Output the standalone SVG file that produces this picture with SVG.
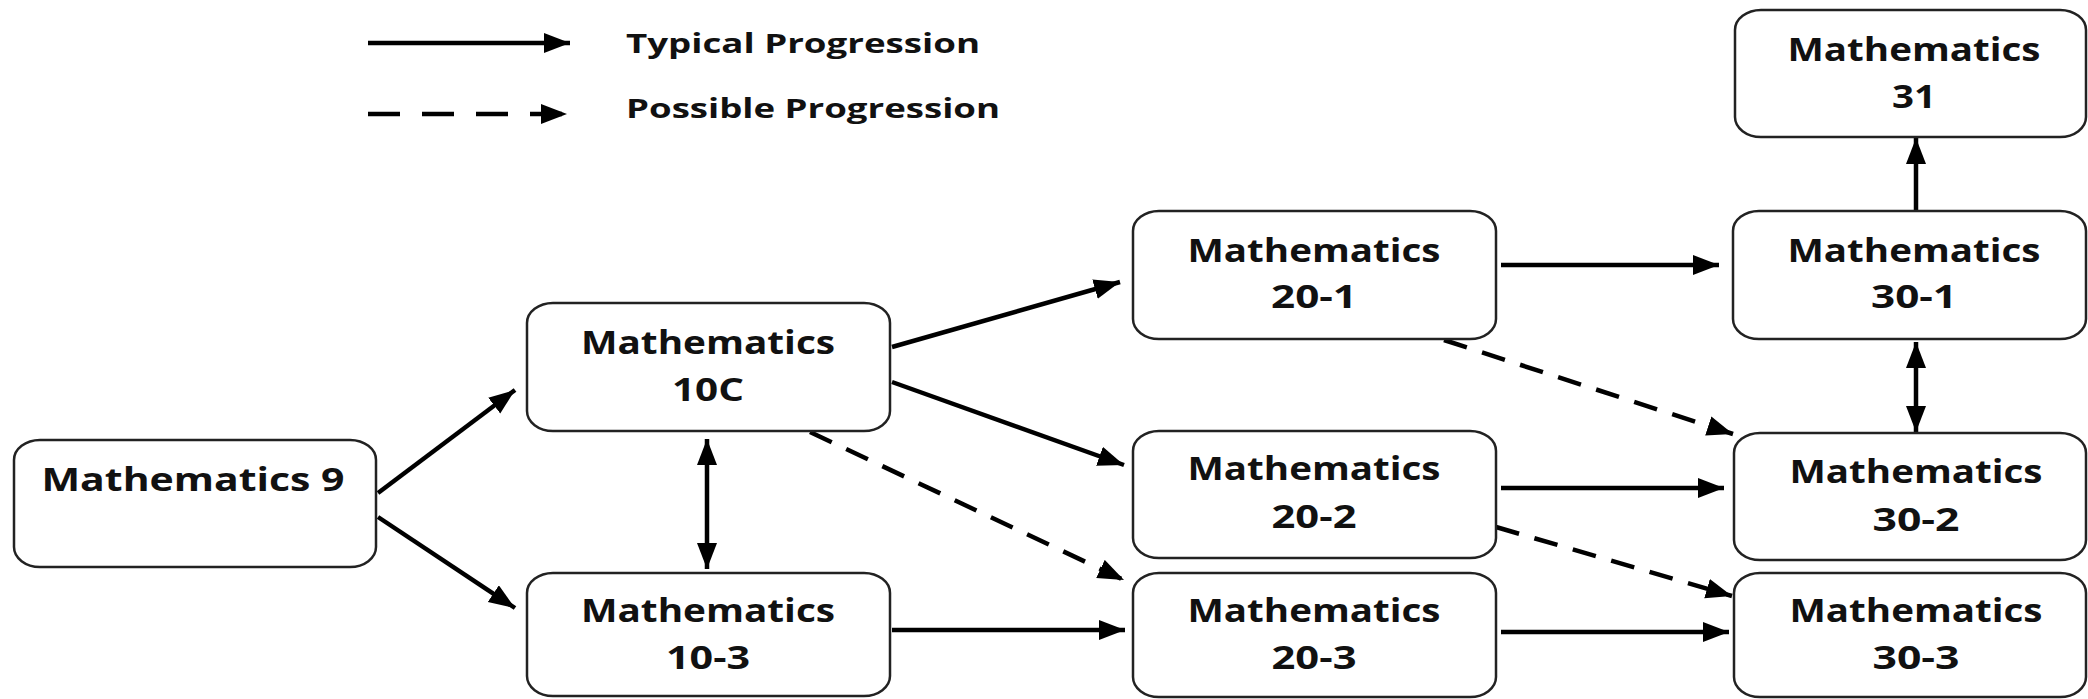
<svg xmlns="http://www.w3.org/2000/svg" width="2088" height="699" viewBox="0 0 2088 699">
<style>
.box{fill:#fff;stroke:#222;stroke-width:2.5}
.t{font-family:"Open Sans","Liberation Sans",sans-serif;font-weight:700;font-size:32px;fill:#111;text-anchor:middle}
.lg{font-family:"Open Sans","Liberation Sans",sans-serif;font-weight:700;font-size:26px;fill:#111}
.c{stroke:#000;stroke-width:4.5;fill:none}
.s{marker-end:url(#ah)}
.d{stroke-dasharray:24 16;marker-end:url(#ah)}
.b{marker-start:url(#ah);marker-end:url(#ah)}
</style>
<defs>
<marker id="ah" markerUnits="userSpaceOnUse" markerWidth="28" markerHeight="22" viewBox="0 0 28 22" refX="26" refY="10" orient="auto-start-reverse">
<path d="M0,0 L26,10 L0,20 z" fill="#000"/>
</marker>
</defs>
<rect width="2088" height="699" fill="#fff"/>
<g id="legend">
<line class="c s" x1="368" y1="43" x2="570" y2="43"/>
<line class="c" x1="368" y1="114" x2="567" y2="114" style="stroke-dasharray:32 22;marker-end:url(#ah)"/>
<text class="lg" x="626" y="53" textLength="354" lengthAdjust="spacingAndGlyphs">Typical Progression</text>
<text class="lg" x="626" y="118" textLength="374" lengthAdjust="spacingAndGlyphs">Possible Progression</text>
</g>
<g id="connectors">
<line class="c s" x1="378" y1="493" x2="515" y2="390"/>
<line class="c s" x1="378" y1="517" x2="515" y2="608"/>
<line class="c b" x1="707" y1="439" x2="707" y2="569"/>
<line class="c s" x1="892" y1="347" x2="1120" y2="282"/>
<line class="c s" x1="892" y1="382" x2="1124" y2="465"/>
<line class="c d" x1="810" y1="432" x2="1124" y2="580"/>
<line class="c s" x1="892" y1="630" x2="1125" y2="630"/>
<line class="c s" x1="1501" y1="265" x2="1719" y2="265"/>
<line class="c d" x1="1444" y1="340" x2="1733" y2="434"/>
<line class="c s" x1="1501" y1="488" x2="1724" y2="488"/>
<line class="c d" x1="1496" y1="527" x2="1732" y2="596"/>
<line class="c s" x1="1501" y1="632" x2="1729" y2="632"/>
<line class="c b" x1="1916" y1="342" x2="1916" y2="432"/>
<line class="c s" x1="1916" y1="211" x2="1916" y2="138"/>
</g>
<g id="n9"><rect class="box" x="14" y="440" width="362" height="127" rx="26" ry="20"/><text class="t" x="193" y="491" textLength="303" lengthAdjust="spacingAndGlyphs">Mathematics 9</text></g>
<g id="n10c"><rect class="box" x="527" y="303" width="363" height="128" rx="26" ry="20"/><text class="t" x="708" y="354" textLength="254" lengthAdjust="spacingAndGlyphs">Mathematics</text><text class="t" x="708" y="401" textLength="72" lengthAdjust="spacingAndGlyphs">10C</text></g>
<g id="n103"><rect class="box" x="527" y="573" width="363" height="123" rx="26" ry="20"/><text class="t" x="708" y="622" textLength="254" lengthAdjust="spacingAndGlyphs">Mathematics</text><text class="t" x="708" y="669" textLength="84" lengthAdjust="spacingAndGlyphs">10-3</text></g>
<g id="n201"><rect class="box" x="1133" y="211" width="363" height="128" rx="26" ry="20"/><text class="t" x="1314" y="262" textLength="253" lengthAdjust="spacingAndGlyphs">Mathematics</text><text class="t" x="1314" y="308" textLength="86" lengthAdjust="spacingAndGlyphs">20-1</text></g>
<g id="n202"><rect class="box" x="1133" y="431" width="363" height="127" rx="26" ry="20"/><text class="t" x="1314" y="480" textLength="253" lengthAdjust="spacingAndGlyphs">Mathematics</text><text class="t" x="1314" y="528" textLength="85" lengthAdjust="spacingAndGlyphs">20-2</text></g>
<g id="n203"><rect class="box" x="1133" y="573" width="363" height="124" rx="26" ry="20"/><text class="t" x="1314" y="622" textLength="253" lengthAdjust="spacingAndGlyphs">Mathematics</text><text class="t" x="1314" y="669" textLength="85" lengthAdjust="spacingAndGlyphs">20-3</text></g>
<g id="n31"><rect class="box" x="1735" y="10" width="351" height="127" rx="26" ry="20"/><text class="t" x="1914" y="61" textLength="253" lengthAdjust="spacingAndGlyphs">Mathematics</text><text class="t" x="1914" y="108" textLength="44" lengthAdjust="spacingAndGlyphs">31</text></g>
<g id="n301"><rect class="box" x="1733" y="211" width="353" height="128" rx="26" ry="20"/><text class="t" x="1914" y="262" textLength="253" lengthAdjust="spacingAndGlyphs">Mathematics</text><text class="t" x="1914" y="308" textLength="86" lengthAdjust="spacingAndGlyphs">30-1</text></g>
<g id="n302"><rect class="box" x="1734" y="433" width="352" height="127" rx="26" ry="20"/><text class="t" x="1916" y="483" textLength="253" lengthAdjust="spacingAndGlyphs">Mathematics</text><text class="t" x="1916" y="531" textLength="87" lengthAdjust="spacingAndGlyphs">30-2</text></g>
<g id="n303"><rect class="box" x="1734" y="573" width="352" height="124" rx="26" ry="20"/><text class="t" x="1916" y="622" textLength="253" lengthAdjust="spacingAndGlyphs">Mathematics</text><text class="t" x="1916" y="669" textLength="87" lengthAdjust="spacingAndGlyphs">30-3</text></g>
</svg>
